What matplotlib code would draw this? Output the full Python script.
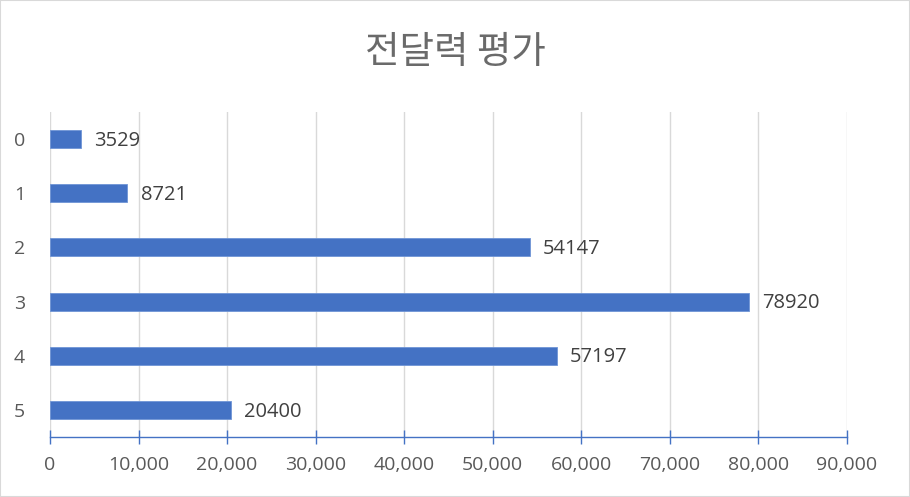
import matplotlib.pyplot as plt
from matplotlib.patches import Rectangle

plt.rcParams['font.family'] = ['Open Sans', 'Noto Sans CJK KR', 'DejaVu Sans']

categories = ['0', '1', '2', '3', '4', '5']
values = [3529, 8721, 54147, 78920, 57197, 20400]
xticks = list(range(0, 90001, 10000))

fig = plt.figure(figsize=(9.1, 4.97), dpi=100)
ax = fig.add_axes([50 / 910, 1 - 437 / 497, 797 / 910, 325 / 497])

ypos = range(len(categories))
ax.barh(ypos, values, height=0.33, color='#4472C4', edgecolor='#6F95D6', linewidth=0.6, zorder=3)
for y, v in zip(ypos, values):
    ax.text(v + 1500, y + 0.03, str(v), va='center', ha='left', fontsize=14.5, color='#404040')

ax.set_xlim(0, 90000)
ax.set_ylim(5.5, -0.5)
ax.set_xticks(xticks)
ax.set_xticklabels([f'{t:,}' for t in xticks], fontsize=14, color='#595959')
ax.set_yticks(list(ypos))
ax.set_yticklabels(categories, fontsize=14, color='#595959')

ax.grid(axis='x', color='#D9D9D9', linewidth=1, zorder=0)
for s in ['top', 'right', 'left']:
    ax.spines[s].set_visible(False)
ax.spines['bottom'].set_color('#4472C4')
ax.spines['bottom'].set_linewidth(1)
ax.tick_params(axis='x', direction='inout', length=10, width=1, color='#4472C4', pad=9)
ax.tick_params(axis='y', length=0, pad=18)

fig.text(0.5, 1 - 53 / 497, '전달력 평가', ha='center', va='center', fontsize=27,
         color='#6A6A6A', family=['Noto Sans CJK KR', 'DejaVu Sans'])

fig.patches.append(Rectangle((0, 0), 1, 1, transform=fig.transFigure, fill=False,
                             edgecolor='#D9D9D9', linewidth=1.5))

fig.savefig('out.png', dpi=100)
